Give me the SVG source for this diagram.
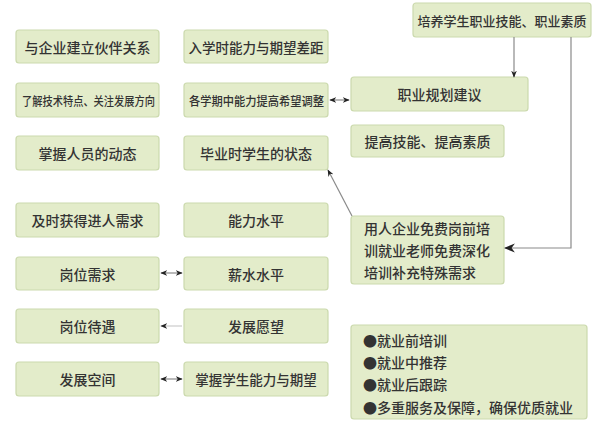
<svg xmlns="http://www.w3.org/2000/svg" width="600" height="428" viewBox="0 0 600 428">
<style>
.b{fill:#e3ecca;stroke:#cbd9ad;stroke-width:1.2}
.t{font-family:"Noto Sans CJK SC","Noto Sans",sans-serif;font-size:14px;font-weight:500;fill:#333;text-anchor:middle;dominant-baseline:central}
.l{font-family:"Noto Sans CJK SC","Noto Sans",sans-serif;font-size:14px;font-weight:500;fill:#333;dominant-baseline:central}
.c{fill:none;stroke:#8a8a8a;stroke-width:1.2}
</style>
<defs>
<marker id="a" viewBox="0 0 10 10" refX="9" refY="5" markerWidth="7" markerHeight="7" orient="auto-start-reverse" markerUnits="userSpaceOnUse">
<path d="M0,1 L10,5 L0,9 L3,5 Z" fill="#222"/>
</marker>
<marker id="a2" viewBox="0 0 10 10" refX="9" refY="5" markerWidth="11" markerHeight="11" orient="auto-start-reverse" markerUnits="userSpaceOnUse">
<path d="M0,1 L10,5 L0,9 L3,5 Z" fill="#222"/>
</marker>
</defs>
<rect width="600" height="428" fill="#fff"/>
<g id="L1"><rect class="b" x="16" y="30" width="143" height="33" rx="3"/><text class="t" x="87.5" y="46.5">与企业建立伙伴关系</text></g>
<g id="L2"><rect class="b" x="16" y="83" width="143" height="34" rx="3"/><text class="t" x="88.5" y="100" style="font-size:12px" textLength="133" lengthAdjust="spacingAndGlyphs">了解技术特点、关注发展方向</text></g>
<g id="L3"><rect class="b" x="16" y="136" width="143" height="34" rx="3"/><text class="t" x="87.5" y="153">掌握人员的动态</text></g>
<g id="L4"><rect class="b" x="16" y="203" width="143" height="34" rx="3"/><text class="t" x="87.5" y="220">及时获得进人需求</text></g>
<g id="L5"><rect class="b" x="16" y="257" width="143" height="33" rx="3"/><text class="t" x="87.5" y="273.5">岗位需求</text></g>
<g id="L6"><rect class="b" x="16" y="309" width="143" height="34" rx="3"/><text class="t" x="87.5" y="326">岗位待遇</text></g>
<g id="L7"><rect class="b" x="16" y="362" width="143" height="34" rx="3"/><text class="t" x="87.5" y="379">发展空间</text></g>
<g id="M1"><rect class="b" x="184" y="30" width="144" height="33" rx="3"/><text class="t" x="256" y="46.5" style="font-size:13.5px">入学时能力与期望差距</text></g>
<g id="M2"><rect class="b" x="184" y="83" width="144" height="34" rx="3"/><text class="t" x="256.5" y="100" style="font-size:12.5px" textLength="135" lengthAdjust="spacingAndGlyphs">各学期中能力提高希望调整</text></g>
<g id="M3"><rect class="b" x="184" y="136" width="144" height="34" rx="3"/><text class="t" x="256" y="153">毕业时学生的状态</text></g>
<g id="M4"><rect class="b" x="184" y="203" width="144" height="34" rx="3"/><text class="t" x="256" y="220">能力水平</text></g>
<g id="M5"><rect class="b" x="184" y="257" width="144" height="33" rx="3"/><text class="t" x="256" y="273.5">薪水水平</text></g>
<g id="M6"><rect class="b" x="184" y="309" width="144" height="34" rx="3"/><text class="t" x="256" y="326">发展愿望</text></g>
<g id="M7"><rect class="b" x="184" y="362" width="144" height="34" rx="3"/><text class="t" x="256" y="379" style="font-size:13.5px">掌握学生能力与期望</text></g>
<g id="R1"><rect class="b" x="413" y="3" width="178" height="34" rx="3"/><text class="t" x="502" y="20" style="font-size:13px">培养学生职业技能、职业素质</text></g>
<g id="R2"><rect class="b" x="351" y="77" width="177" height="34" rx="3"/><text class="t" x="439.5" y="94">职业规划建议</text></g>
<g id="R3"><rect class="b" x="351" y="125" width="153" height="32" rx="3"/><text class="t" x="427.5" y="141">提高技能、提高素质</text></g>
<g id="R4"><rect class="b" x="351" y="216" width="153" height="68" rx="3"/>
<text class="l" x="364" y="228">用人企业免费岗前培</text>
<text class="l" x="364" y="250">训就业老师免费深化</text>
<text class="l" x="364" y="272">培训补充特殊需求</text></g>
<g id="R5"><rect class="b" x="351" y="325" width="236" height="94" rx="3"/>
<text class="l" x="363" y="340">●就业前培训</text>
<text class="l" x="363" y="362">●就业中推荐</text>
<text class="l" x="363" y="384">●就业后跟踪</text>
<text class="l" x="363" y="407">●多重服务及保障，确保优质就业</text></g>
<g id="connectors">
<path class="c" d="M514,37 V77" marker-end="url(#a)"/>
<path class="c" d="M571,37 V248 H505" marker-end="url(#a2)"/>
<path class="c" d="M330,100 H349" marker-start="url(#a)" marker-end="url(#a)"/>
<path class="c" d="M352,216 L328,170" marker-end="url(#a)"/>
<path class="c" d="M161,273 H182" marker-start="url(#a)" marker-end="url(#a)"/>
<path class="c" d="M182,326 H161" style="stroke:#ccc" marker-end="url(#a)"/>
<path class="c" d="M161,379 H182" marker-start="url(#a)" marker-end="url(#a)"/>
</g>
</svg>
